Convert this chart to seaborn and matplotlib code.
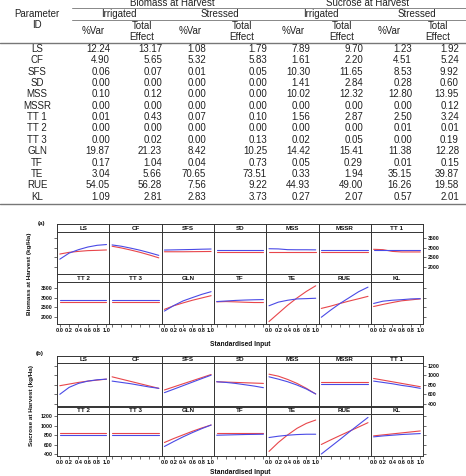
import numpy as np
import pandas as pd
import matplotlib
matplotlib.use("Agg")
import matplotlib.pyplot as plt
import seaborn as sns

sns.set_theme(style="white")
plt.rcParams["font.family"] = ["Liberation Sans", "DejaVu Sans"]

W, H = 466, 476

# ---- table data ----
param_ids = ["LS", "CF", "SFS", "SD", "MSS", "MSSR", "TT 1", "TT 2", "TT 3",
             "GLN", "TF", "TE", "RUE", "KL"]
bio_irr_var = [12.24, 4.90, 0.06, 0.00, 0.10, 0.00, 0.01, 0.00, 0.00, 19.87, 0.17, 3.04, 54.05, 1.09]
bio_irr_tot = [13.17, 5.65, 0.07, 0.00, 0.12, 0.00, 0.43, 0.00, 0.02, 21.23, 1.04, 5.66, 56.28, 2.81]
bio_str_var = [1.08, 5.32, 0.01, 0.00, 0.00, 0.00, 0.07, 0.00, 0.00, 8.42, 0.04, 70.65, 7.56, 2.83]
bio_str_tot = [1.79, 5.83, 0.05, 0.00, 0.00, 0.00, 0.10, 0.00, 0.13, 10.25, 0.73, 73.51, 9.22, 3.73]
suc_irr_var = [7.89, 1.61, 10.30, 1.41, 10.02, 0.00, 1.56, 0.00, 0.02, 14.42, 0.05, 0.33, 44.93, 0.27]
suc_irr_tot = [9.70, 2.20, 11.65, 2.84, 12.32, 0.00, 2.87, 0.00, 0.05, 15.41, 0.29, 1.94, 49.00, 2.07]
suc_str_var = [1.23, 4.51, 8.53, 0.28, 12.80, 0.00, 2.50, 0.01, 0.00, 11.38, 0.01, 35.15, 16.26, 0.57]
suc_str_tot = [1.92, 5.24, 9.92, 0.60, 13.95, 0.12, 3.24, 0.01, 0.19, 12.28, 0.15, 39.87, 19.58, 2.01]

# ---- response curves (standardised input 0..1) ----
x_input = [0.0, 0.2, 0.4, 0.6, 0.8, 1.0]

bio_irrigated = {
    "LS": [2410, 2730, 2910, 3050, 3140, 3180],
    "CF": [3160, 3090, 2990, 2880, 2750, 2610],
    "SFS": [2890, 2900, 2910, 2920, 2935, 2945],
    "SD": [2890, 2890, 2890, 2890, 2890, 2890],
    "MSS": [2960, 2950, 2910, 2905, 2905, 2900],
    "MSSR": [2910, 2910, 2910, 2910, 2910, 2910],
    "TT 1": [2910, 2910, 2910, 2910, 2910, 2910],
    "TT 2": [2880, 2880, 2880, 2880, 2880, 2880],
    "TT 3": [2880, 2880, 2880, 2880, 2880, 2880],
    "GLN": [2310, 2600, 2845, 3020, 3190, 3330],
    "TF": [2810, 2840, 2870, 2890, 2905, 2915],
    "TE": [2590, 2780, 2880, 2950, 2965, 2985],
    "RUE": [1985, 2360, 2710, 3020, 3330, 3570],
    "KL": [2710, 2830, 2880, 2910, 2950, 2965],
}
bio_stressed = {
    "LS": [2680, 2770, 2820, 2860, 2875, 2895],
    "CF": [3090, 3000, 2890, 2770, 2630, 2480],
    "SFS": [2800, 2800, 2800, 2805, 2810, 2815],
    "SD": [2790, 2790, 2790, 2790, 2790, 2790],
    "MSS": [2790, 2790, 2790, 2790, 2790, 2790],
    "MSSR": [2790, 2790, 2790, 2790, 2790, 2790],
    "TT 1": [2930, 2910, 2820, 2790, 2790, 2790],
    "TT 2": [2775, 2775, 2775, 2775, 2775, 2775],
    "TT 3": [2775, 2775, 2775, 2775, 2775, 2775],
    "GLN": [2400, 2590, 2740, 2880, 3000, 3120],
    "TF": [2795, 2810, 2795, 2775, 2760, 2760],
    "TE": [1760, 2190, 2620, 3000, 3345, 3640],
    "RUE": [2450, 2570, 2710, 2840, 2960, 3085],
    "KL": [2550, 2660, 2760, 2850, 2900, 2950],
}
suc_irrigated = {
    "LS": [596, 744, 828, 877, 905, 919],
    "CF": [877, 849, 821, 786, 751, 723],
    "SFS": [631, 705, 780, 855, 930, 1003],
    "SD": [863, 849, 828, 800, 772, 737],
    "MSS": [968, 919, 863, 793, 709, 603],
    "MSSR": [814, 814, 814, 814, 814, 814],
    "TT 1": [877, 849, 821, 786, 758, 723],
    "TT 2": [800, 800, 800, 800, 800, 800],
    "TT 3": [800, 800, 800, 800, 800, 800],
    "GLN": [561, 666, 765, 856, 940, 1017],
    "TF": [800, 805, 810, 815, 818, 821],
    "TE": [751, 779, 800, 814, 821, 821],
    "RUE": [400, 555, 710, 870, 1025, 1179],
    "KL": [765, 785, 800, 815, 825, 835],
}
suc_stressed = {
    "LS": [779, 814, 849, 877, 898, 919],
    "CF": [968, 919, 870, 821, 772, 723],
    "SFS": [688, 754, 820, 885, 951, 1017],
    "SD": [863, 856, 849, 842, 835, 828],
    "MSS": [1024, 982, 912, 828, 723, 603],
    "MSSR": [849, 849, 849, 849, 849, 849],
    "TT 1": [933, 898, 863, 828, 793, 758],
    "TT 2": [849, 849, 849, 849, 849, 849],
    "TT 3": [849, 849, 849, 849, 849, 849],
    "GLN": [645, 730, 807, 884, 954, 1017],
    "TF": [842, 842, 842, 842, 842, 842],
    "TE": [456, 646, 807, 947, 1052, 1123],
    "RUE": [603, 700, 793, 884, 975, 1067],
    "KL": [786, 807, 828, 849, 870, 891],
}

palette = {"Irrigated": "#4a4ae6", "Stressed": "#e8464b"}
edge = "#333333"

fig = plt.figure(figsize=(W / 100, H / 100), dpi=100)
bg = fig.add_axes([0, 0, 1, 1])
bg.set_xlim(0, W)
bg.set_ylim(H, 0)
bg.axis("off")


def px_axes(x, y, w, h):
    return fig.add_axes([x / W, 1 - (y + h) / H, w / W, h / H])


# ---- table ----
tfs = 7
tc = "#222222"
bg.text(172, 3.5, "Biomass at Harvest", ha="center", va="center", fontsize=tfs, color=tc)
bg.text(368, 3.5, "Sucrose at Harvest", ha="center", va="center", fontsize=tfs, color=tc)
bg.plot([72, 466], [8, 8], color="#888888", lw=0.7)
for xc, lab in [(119, "Irrigated"), (220, "Stressed"), (321, "Irrigated"), (417, "Stressed")]:
    bg.text(xc, 14, lab, ha="center", va="center", fontsize=tfs, color=tc)
bg.plot([72, 466], [19.5, 19.5], color="#888888", lw=0.7)
bg.text(37, 14, "Parameter", ha="center", va="center", fontsize=tfs, color=tc)
bg.text(37, 25, "ID", ha="center", va="center", fontsize=tfs, color=tc)
for xc in [93, 190, 293, 389]:
    bg.text(xc, 31.5, "%Var", ha="center", va="center", fontsize=tfs, color=tc)
for xc in [142, 242, 342, 438]:
    bg.text(xc, 26, "Total", ha="center", va="center", fontsize=tfs, color=tc)
    bg.text(xc, 36.5, "Effect", ha="center", va="center", fontsize=tfs, color=tc)
bg.plot([0, 466], [43, 43], color="#777777", lw=1.0)
bg.plot([0, 466], [203.5, 203.5], color="#777777", lw=1.0)

cols = [bio_irr_var, bio_irr_tot, bio_str_var, bio_str_tot,
        suc_irr_var, suc_irr_tot, suc_str_var, suc_str_tot]
col_right = [110, 162, 206, 267, 310, 363, 412, 459]
for i, pid in enumerate(param_ids):
    yy = 49 + i * 11.35
    bg.text(37, yy, pid, ha="center", va="center", fontsize=tfs, color=tc)
    for vals, xr in zip(cols, col_right):
        bg.text(xr, yy, f"{vals[i]:.2f}", ha="right", va="center", fontsize=tfs, color=tc)

# ---- panel groups ----
col_x = [57 + 52.3 * k for k in range(7)]
pw = 52.3


def draw_group(curves_irr, curves_str, row_tops, strip_h, plot_h, ylim, yticks):
    for idx, pid in enumerate(param_ids):
        r, c = divmod(idx, 7)
        x0 = col_x[c]
        top = row_tops[r]
        sax = px_axes(x0, top, pw, strip_h)
        sax.set_xticks([])
        sax.set_yticks([])
        sax.set_facecolor("white")
        for s in sax.spines.values():
            s.set_color(edge)
            s.set_linewidth(0.7)
        sax.text(0.5, 0.45, pid, transform=sax.transAxes, ha="center", va="center",
                 fontsize=4.5, fontweight="bold", color="#111111")

        ax = px_axes(x0, top + strip_h, pw, plot_h)
        df = pd.DataFrame({
            "input": x_input + x_input,
            "value": curves_irr[pid] + curves_str[pid],
            "water": ["Irrigated"] * len(x_input) + ["Stressed"] * len(x_input),
        })
        sns.lineplot(data=df, x="input", y="value", hue="water", palette=palette,
                     hue_order=["Stressed", "Irrigated"], legend=False, ax=ax,
                     linewidth=0.8)
        ax.set_xlim(-0.06, 1.06)
        ax.set_ylim(*ylim)
        ax.set_xticks(x_input)
        ax.set_xticklabels([f"{v:.1f}" for v in x_input])
        ax.set_yticks(yticks)
        ax.set_yticklabels([str(v) for v in yticks])
        ax.set_xlabel("")
        ax.set_ylabel("")
        ax.set_facecolor("white")
        for s in ax.spines.values():
            s.set_color(edge)
            s.set_linewidth(0.7)
        ax.tick_params(axis="both", direction="out", length=2.2, width=0.5,
                       color=edge, pad=1, labelsize=3.7)
        ax.tick_params(left=(c == 0), right=(c == 6), bottom=(r == 1), top=False,
                       labelleft=(c == 0 and r == 1), labelright=(c == 6 and r == 0),
                       labelbottom=(r == 1 and c % 2 == 0), labeltop=False)
        for lab in ax.get_xticklabels() + ax.get_yticklabels():
            lab.set_fontweight("bold")
            lab.set_color("#111111")
        ax.tick_params(axis="x", labelsize=4.1)


draw_group(bio_irrigated, bio_stressed, [224, 274], 8, 42, (1630, 3840),
           [2000, 2500, 3000, 3500])
draw_group(suc_irrigated, suc_stressed, [356, 406.5], 7, 42.5, (358, 1262),
           [400, 600, 800, 1000, 1200])

bg.text(42, 224, "(a)", ha="center", va="center", fontsize=4.5, fontweight="bold", color="#111111")
bg.text(40, 353, "(b)", ha="center", va="center", fontsize=4.5, fontweight="bold", color="#111111")
bg.text(30, 274, "Biomass at Harvest (kg/Ha)", rotation=90, ha="center", va="center",
        fontsize=4.6, fontweight="bold", color="#111111")
bg.text(31, 406, "Sucrose at Harvest (kg/Ha)", rotation=90, ha="center", va="center",
        fontsize=4.6, fontweight="bold", color="#111111")
bg.text(240, 345, "Standardised Input", ha="center", va="center",
        fontsize=4.8, fontweight="bold", color="#111111")
bg.text(240, 472, "Standardised Input", ha="center", va="center",
        fontsize=4.8, fontweight="bold", color="#111111")

fig.savefig("out.png", dpi=100)
